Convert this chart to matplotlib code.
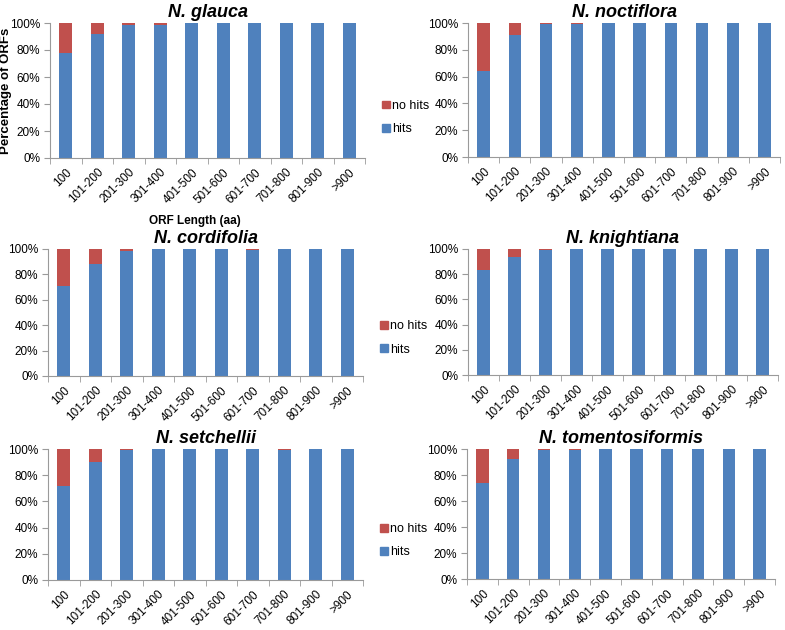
import numpy as np
import matplotlib
matplotlib.use("Agg")
import matplotlib.pyplot as plt
from matplotlib.patches import Patch

plt.rcParams['font.family'] = ['Liberation Sans', 'DejaVu Sans']

categories = ['100', '101-200', '201-300', '301-400', '401-500',
              '501-600', '601-700', '701-800', '801-900', '>900']

species = ['N. glauca', 'N. noctiflora', 'N. cordifolia',
           'N. knightiana', 'N. setchellii', 'N. tomentosiformis']

# percentage of ORFs with hits, per length bin
hits_glauca = [77.5, 92, 98.5, 98.5, 99.8, 100, 100, 100, 100, 100]
hits_noctiflora = [64.5, 91, 99, 99.5, 99.8, 99.8, 99.8, 100, 99.7, 100]
hits_cordifolia = [71, 88.5, 98.5, 100, 100, 100, 99.5, 100, 100, 100]
hits_knightiana = [83, 94, 99.5, 99.7, 99.7, 100, 100, 100, 100, 100]
hits_setchellii = [72, 90, 99, 100, 99.7, 100, 100, 99.5, 100, 100]
hits_tomentosiformis = [74, 92, 99, 99, 100, 100, 100, 100, 100, 100]

all_hits = [hits_glauca, hits_noctiflora, hits_cordifolia,
            hits_knightiana, hits_setchellii, hits_tomentosiformis]

BLUE = '#4F81BD'
RED = '#C0504D'
AXIS_GRAY = '#9A9A9A'

W, H = 785, 630
fig = plt.figure(figsize=(W / 100, H / 100), dpi=100)

# panel boxes in pixels: left, right, top, bottom
boxes = [
    (50, 365, 23, 158), (468, 780, 23, 157),
    (48, 363, 249, 376), (468, 778, 249, 375),
    (48, 363, 449, 580), (467, 775, 449, 579),
]

x = np.arange(len(categories))
for i, (name, hits, (l, r, t, b)) in enumerate(zip(species, all_hits, boxes)):
    ax = fig.add_axes([l / W, (H - b) / H, (r - l) / W, (b - t) / H])
    hits = np.array(hits)
    nohits = 100 - hits
    ax.bar(x, hits, width=0.4, color=BLUE, label='hits')
    ax.bar(x, nohits, width=0.4, bottom=hits, color=RED, label='no hits')

    ax.set_xlim(-0.5, len(categories) - 0.5)
    ax.set_ylim(0, 100)
    ax.set_yticks([0, 20, 40, 60, 80, 100])
    ax.set_yticklabels(['%d%%' % v for v in [0, 20, 40, 60, 80, 100]], fontsize=8.5)
    ax.set_xticks(x)
    ax.set_xticklabels(categories, rotation=45, ha='right', rotation_mode='anchor',
                       fontsize=8.5)
    ax.set_xticks(np.arange(-0.5, len(categories)), minor=True)
    ax.tick_params(axis='x', which='major', length=0, pad=6)
    ax.tick_params(axis='x', which='minor', length=4, color=AXIS_GRAY, direction='out')
    ax.tick_params(axis='y', length=4, color=AXIS_GRAY, direction='out', pad=3)

    for s in ['top', 'right']:
        ax.spines[s].set_visible(False)
    for s in ['left', 'bottom']:
        ax.spines[s].set_color(AXIS_GRAY)
        ax.spines[s].set_linewidth(0.8)

    ax.set_title(name, fontsize=13, fontweight='bold', style='italic', pad=4)

    if i % 2 == 0:
        handles = [Patch(color=RED, label='no hits'), Patch(color=BLUE, label='hits')]
        ax.legend(handles=handles, loc='center left', bbox_to_anchor=(1.035, 0.30),
                  frameon=False, fontsize=9, handlelength=0.6, handleheight=0.6,
                  handletextpad=0.2, labelspacing=0.9, borderpad=0)

    if i == 0:
        ax.set_ylabel('Percentage of ORFs', fontsize=9.5, fontweight='bold')
        ax.yaxis.set_label_coords(-0.12, 0.5)
        ax.set_xlabel('ORF Length (aa)', fontsize=8.5, fontweight='bold')
        ax.xaxis.set_label_coords(0.46, -0.42)

fig.savefig('out.png', dpi=100, facecolor='white')
